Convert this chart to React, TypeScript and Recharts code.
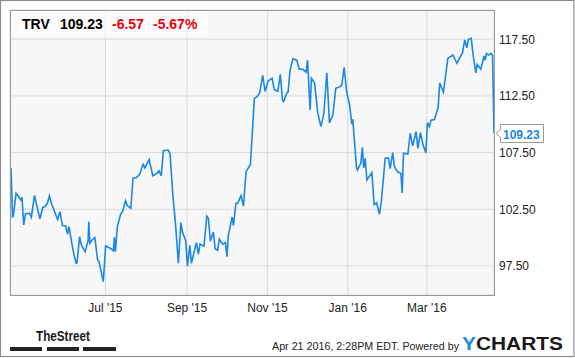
import React from "react";
import { LineChart, Line, XAxis, YAxis, CartesianGrid } from "recharts";

// Days since 2015-07-01
const dayOffsets = [
  -71.6, -70.5, -69.9, -67.8, -66.3, -65.0, -64.2, -63.3, -62.0, -60.7,
  -57.7, -56.2, -53.8, -51.6, -49.7, -47.5, -46.0, -44.0, -42.5, -41.0,
  -39.0, -36.3, -34.5, -32.6, -30.2, -28.7, -27.6, -25.8, -23.8, -22.2,
  -21.5, -19.6, -18.2, -15.4, -13.1, -12.6, -11.8, -10.1, -8.0, -5.9,
  -4.8, -1.6, 0.2, 4.1, 6.1, 6.8, 7.6, 9.1, 11.4, 13.3,
  15.3, 16.5, 19.3, 21.0, 23.7, 26.1, 28.6, 30.0, 33.2, 36.0,
  39.0, 40.7, 42.4, 44.0, 47.8, 49.1, 51.2, 53.3, 55.4, 57.3,
  58.6, 60.9, 62.3, 64.1, 65.3, 69.1, 70.6, 71.9, 74.8, 77.0,
  78.2, 79.7, 82.0, 83.3, 85.2, 86.5, 89.0, 91.1, 92.3, 93.3,
  96.2, 97.2, 99.1, 100.5, 103.0, 104.8, 106.8, 110.1, 111.6, 113.1,
  115.0, 117.2, 119.4, 121.3, 123.5, 124.7, 126.6, 128.2, 130.9, 132.8,
  134.4, 135.3, 137.7, 138.7, 140.2, 142.3, 145.3, 147.2, 149.9, 152.4,
  153.5, 155.4, 156.4, 158.8, 161.1, 163.6, 165.8, 168.1, 170.1, 172.7,
  174.9, 178.2, 179.5, 181.2, 183.3, 185.4, 187.1, 187.8, 190.6, 191.3,
  193.9, 195.1, 196.1, 197.2, 198.5, 202.3, 204.0, 205.9, 208.0, 209.5,
  212.4, 214.9, 216.2, 218.1, 219.4, 222.0, 224.3, 225.3, 226.3, 229.6,
  231.4, 233.3, 235.8, 237.2, 239.2, 241.1, 243.3, 244.5, 245.9, 247.2,
  249.8, 252.6, 253.8, 256.6, 260.0, 263.0, 263.8, 266.8, 271.1, 272.8,
  274.4, 275.6, 277.7, 279.2, 281.2, 282.2, 285.0, 287.5, 288.3, 289.3,
  291.0, 292.9, 293.9, 295.0,
];

const closes = [
  106.12, 101.85, 101.91, 103.91, 103.68, 103.47, 103.32, 103.56, 101.12, 102.09,
  102.15, 101.8, 103.72, 102.59, 101.65, 102.68, 102.73, 103.03, 103.68, 103.03,
  102.44, 101.6, 102.29, 101.07, 101.05, 100.32, 100.97, 99.71, 98.47, 97.74,
  97.79, 100.09, 99.35, 98.76, 99.73, 101.41, 99.5, 99.79, 100.01, 98.03,
  97.88, 96.12, 99.26, 99.04, 98.85, 100.03, 98.76, 100.97, 102.0, 102.4,
  103.26, 102.84, 102.59, 105.24, 105.31, 105.6, 106.47, 106.15, 106.89, 105.46,
  105.65, 105.9, 105.44, 107.67, 107.73, 107.38, 103.76, 101.12, 97.74, 101.32,
  100.44, 99.75, 97.5, 99.33, 97.74, 99.56, 98.54, 99.44, 99.24, 101.89,
  101.71, 99.68, 100.5, 99.02, 98.89, 99.86, 99.42, 99.56, 98.32, 100.15,
  101.82, 101.07, 103.03, 103.03, 103.7, 102.77, 105.82, 106.45, 109.35, 112.28,
  112.41, 112.79, 114.32, 112.88, 113.82, 113.91, 114.06, 113.05, 112.91, 114.41,
  112.15, 112.0, 112.76, 112.85, 114.75, 115.78, 115.65, 114.85, 114.85, 114.6,
  115.67, 111.26, 114.06, 113.64, 111.07, 109.79, 110.91, 114.55, 110.12, 110.82,
  113.18, 113.32, 113.47, 115.03, 112.76, 111.7, 110.01, 110.44, 106.19, 105.97,
  106.56, 107.97, 106.15, 107.0, 105.09, 105.73, 102.91, 103.08, 102.06, 103.22,
  107.0, 107.03, 106.08, 107.5, 106.26, 105.78, 105.68, 103.94, 107.44, 107.38,
  109.21, 108.09, 109.35, 107.88, 109.26, 108.18, 107.5, 110.14, 109.79, 110.35,
  110.41, 111.48, 113.64, 112.83, 115.82, 116.03, 116.11, 115.38, 116.32, 117.44,
  116.75, 117.5, 117.59, 116.07, 114.53, 115.28, 114.85, 116.03, 115.67, 116.23,
  116.11, 116.25, 116.07, 109.23,
];

const tickDays = [0, 62, 123, 184, 244];
const tickLabels = ["Jul '15", "Sep '15", "Nov '15", "Jan '16", "Mar '16"];
const yTicks = [97.5, 102.5, 107.5, 112.5, 117.5];

const ticker = "TRV";
const lastPrice = "109.23";
const change = "-6.57";
const changePct = "-5.67%";
const stamp = "Apr 21 2016, 2:28PM EDT. Powered by";

const data = dayOffsets.map((d, i) => ({ day: d, close: closes[i] }));

const FONT = "Arial, 'Liberation Sans', Helvetica, sans-serif";

export default function App() {
  return (
    <div
      style={{
        position: "absolute",
        left: 0,
        top: 0,
        width: 575,
        height: 358,
        background: "#ffffff",
        overflow: "hidden",
      }}
    >
      <div
        style={{
          position: "absolute",
          left: 10,
          top: 10,
          width: 484,
          height: 285,
          background: "#f7f7f7",
        }}
      />
      <div style={{ position: "absolute", left: 0, top: 0 }}>
        <LineChart
          width={575}
          height={358}
          data={data}
          margin={{ top: 10, right: 0, bottom: 33, left: 10 }}
        >
          <CartesianGrid stroke="#d9d9d9" strokeWidth={1} />
          <XAxis
            dataKey="day"
            type="number"
            domain={[-72.4, 295]}
            ticks={tickDays}
            allowDataOverflow
            axisLine={false}
            tickLine={false}
            tickSize={0}
            tickMargin={8}
            height={30}
            interval={0}
            tickFormatter={(v: number) => tickLabels[tickDays.indexOf(v)] ?? ""}
            tick={{ fill: "#222", fontSize: 12, fontFamily: FONT }}
          />
          <YAxis
            orientation="right"
            domain={[94.94, 120.08]}
            ticks={yTicks}
            allowDataOverflow
            axisLine={false}
            tickLine={false}
            tickSize={0}
            tickMargin={5}
            width={81}
            interval={0}
            tickFormatter={(v: number) => v.toFixed(2)}
            tick={{ fill: "#222", fontSize: 12, fontFamily: FONT }}
          />
          <Line
            type="linear"
            dataKey="close"
            stroke="#1a87e2"
            strokeWidth={1.6}
            dot={false}
            isAnimationActive={false}
          />
        </LineChart>
      </div>
      <svg
        width={575}
        height={358}
        style={{ position: "absolute", left: 0, top: 0, pointerEvents: "none" }}
      >
        {/* outer frame */}
        <rect x={0.5} y={0.5} width={573.5} height={356} fill="none" stroke="#8c8c8c" strokeWidth={1.2} />
        {/* plot border */}
        <rect x={10.5} y={10.5} width={484} height={285} fill="none" stroke="#9a9a9a" strokeWidth={1} />
        {/* header box */}
        <rect x={11} y={11} width={197} height={26} fill="#ffffff" fillOpacity={0.55} />
        <g fontFamily={FONT} fontSize={14} fontWeight="bold">
          <text x={22} y={29} fill="#000">{ticker}</text>
          <text x={60} y={29} fill="#000">{lastPrice}</text>
          <text x={112} y={29} fill="#e8000b">{change}</text>
          <text x={153} y={29} fill="#e8000b">{changePct}</text>
        </g>
        {/* last price label */}
        <path
          d="M500.5,124.5 L543.5,124.5 L543.5,142.5 L500.5,142.5 L500.5,137.5 L496,133.5 L500.5,129.5 Z"
          fill="#ffffff"
          stroke="#9a9a9a"
          strokeWidth={1}
        />
        <text x={503} y={138.5} fontFamily={FONT} fontSize={12} fontWeight="bold" fill="#1a87e2">
          {lastPrice}
        </text>
        {/* footer: TheStreet */}
        <text
          x={36}
          y={341}
          fontFamily={FONT}
          fontSize={15.5}
          fontWeight="bold"
          fill="#1a1a1a"
          textLength={54}
          lengthAdjust="spacingAndGlyphs"
        >
          TheStreet
        </text>
        <rect x={10} y={347} width={32} height={4} fill="#222" />
        <rect x={47} y={347} width={32} height={4} fill="#222" />
        <rect x={83} y={347} width={33} height={4} fill="#222" />
        {/* footer: timestamp + YCHARTS */}
        <text
          x={272}
          y={350}
          fontFamily={FONT}
          fontSize={11}
          fill="#222"
          textLength={187}
          lengthAdjust="spacingAndGlyphs"
        >
          {stamp}
        </text>
        <text
          x={462}
          y={349.5}
          fontFamily={FONT}
          fontSize={19}
          fontWeight="bold"
          textLength={101}
          lengthAdjust="spacingAndGlyphs"
        >
          <tspan fill="#1a8ce0">Y</tspan>
          <tspan fill="#1a1a1a">CHARTS</tspan>
        </text>
      </svg>
    </div>
  );
}
